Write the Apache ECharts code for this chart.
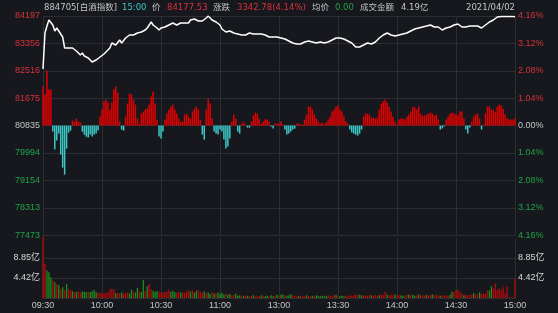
<!DOCTYPE html>
<html><head><meta charset="utf-8">
<script src="https://cdn.jsdelivr.net/npm/echarts@6/dist/echarts.min.js"></script>
<style>html,body{margin:0;padding:0;background:#16181d;}#c{width:558px;height:313px;}</style>
</head><body><div id="c"></div>
<script>
// ---- data ----
const tickLabels = ['09:30','10:00','10:30','11:00','13:00','13:30','14:00','14:30','15:00'];
const preClose = 80834.75;
const priceStep = 840.5;
const pctStep = 1.04;
const volStep = 4.4233;

const header = {
  code: '884705[白酒指数]', time: '15:00', priceLbl: '价', price: '84177.53',
  chgLbl: '涨跌', chg: '3342.78(4.14%)', avgLbl: '均价', avg: '0.00',
  amtLbl: '成交金额', amt: '4.19亿', date: '2021/04/02'
};

const price = [
82571,83675,83890,84074,84013,83921,83737,83829,83737,83706,
83553,83215,83154,83215,83185,83215,83154,83123,83093,83000,
83062,82970,82939,82908,82847,82786,82755,82847,82878,82939,
82970,83031,83093,83154,83215,83368,83399,83307,83368,83460,
83368,83399,83522,83553,83614,83583,83614,83645,83675,83675,
83706,83706,83767,83829,83921,84013,83921,83860,83829,83767,
83829,83829,83860,83890,83921,83921,83982,83982,83921,83982,
83982,83951,83982,84013,83982,84074,84135,84105,84044,84044,
84105,84044,84105,84135,84197,84166,84074,84135,84013,83982,
83921,83798,83737,83706,83706,83737,83767,83675,83614,83645,
83675,83614,83614,83614,83645,83675,83675,83645,83614,83645,
83645,83645,83614,83614,83583,83553,83553,83553,83553,83553,
83553,83522,83522,83491,83460,83430,83399,83368,83368,83338,
83307,83338,83368,83399,83399,83430,83399,83399,83399,83368,
83368,83399,83368,83368,83368,83399,83430,83460,83491,83522,
83553,83522,83522,83491,83460,83430,83399,83368,83307,83246,
83215,83246,83307,83307,83338,83368,83368,83338,83368,83399,
83460,83522,83553,83614,83675,83675,83645,83614,83583,83583,
83614,83614,83614,83645,83645,83675,83706,83737,83767,83798,
83829,83829,83829,83860,83890,83890,83921,83921,83890,83860,
83860,83860,83829,83767,83798,83829,83860,83860,83890,83921,
83921,83951,83982,83860,83829,83860,83860,83890,83921,83890,
83921,83890,83860,83829,83860,83921,83982,84013,84044,84074,
84135,84166,84180,84182,84180,84178,84180,84178,84178,84178,
84177.53];

// buy/sell strength bars (red up, cyan down), arbitrary units
const strength = [
39,31,55,36,36,-6,-24,-15,-8,-29,
-42,-49,-23,-7,-5,5,4,7,4,3,
-6,-9,-11,-12,-9,-11,-9,-8,-5,9,
16,24,26,23,16,23,36,39,33,4,
-4,-5,9,22,32,31,26,21,7,2,
12,14,16,17,21,29,34,22,6,-11,
-13,-6,6,12,16,19,21,16,12,7,
4,4,11,12,9,7,14,17,19,16,
6,-9,-14,16,27,22,7,-6,-8,-9,
-4,-6,-14,-23,-21,-13,4,11,7,-6,
-8,2,4,1,-2,-2,4,10,13,12,
7,2,4,6,6,4,-1,-3,2,2,
2,4,1,-4,-9,-8,-6,-4,-3,2,
2,1,1,6,11,19,19,16,11,7,
4,2,3,1,3,6,9,14,16,19,
20,16,14,9,4,2,-4,-7,-8,-9,
-10,-8,-4,9,12,12,11,8,8,7,
8,16,22,24,26,23,19,14,9,4,
1,6,7,7,6,9,11,14,19,18,
16,19,12,10,10,11,12,13,12,10,
11,6,-4,-3,-1,6,9,12,13,12,
11,10,14,14,7,-4,-8,-2,4,9,
11,12,7,-4,1,12,19,19,16,16,
14,19,21,20,17,11,7,6,6,6,
7];

// minute turnover (亿)
const volume = [
13.6,7.5,6.1,5.7,4.6,3.9,3.5,3.1,2.8,2.0,
2.4,1.7,3.1,2.0,1.7,1.5,1.3,1.3,1.5,1.2,
1.5,1.3,1.3,1.3,1.3,1.5,1.8,1.3,1.1,1.2,
1.1,1.0,1.1,1.2,2.0,2.0,1.9,1.1,1.0,1.1,
1.2,1.0,1.1,1.2,1.0,1.8,1.4,1.2,2.2,1.5,
1.3,3.9,1.6,2.6,3.1,2.0,1.6,1.4,1.5,1.3,
1.2,1.2,1.3,1.4,1.9,1.4,1.6,1.3,1.2,1.4,
1.2,1.3,1.1,1.5,1.7,1.4,1.7,1.2,1.6,1.8,
1.3,1.2,1.5,1.1,1.2,0.9,1.3,1.0,1.1,1.2,
0.9,1.2,0.8,1.0,0.7,0.9,0.6,0.8,1.0,0.5,
0.6,0.5,0.4,0.6,0.5,0.4,0.5,0.6,0.4,0.5,
0.4,0.6,0.5,0.4,0.5,0.4,0.6,0.4,0.5,0.7,
0.5,0.7,0.8,0.6,0.5,0.6,0.9,0.6,0.5,0.4,
0.5,0.4,0.5,0.4,0.6,0.5,0.4,0.5,0.4,0.6,
0.5,0.4,0.5,0.4,0.5,0.6,0.5,0.4,0.6,0.7,
0.5,0.4,0.5,0.4,0.5,0.4,0.6,0.5,0.6,0.7,
0.8,0.7,0.6,0.5,0.6,0.5,0.7,0.6,0.5,0.6,
0.5,0.6,0.7,0.8,1.3,0.7,0.6,0.7,0.6,0.8,
0.6,0.7,0.6,0.5,0.6,0.7,0.8,0.6,0.7,0.5,
0.6,0.8,0.7,0.6,0.5,0.7,0.6,0.7,0.8,0.6,
0.7,0.6,0.5,0.6,0.5,0.6,0.5,0.7,1.4,1.3,
1.7,1.8,1.3,0.9,0.6,0.7,0.6,0.8,0.7,1.1,
0.8,0.9,1.3,0.9,1.0,0.9,1.7,1.7,2.6,2.1,
3.2,1.8,2.1,1.8,2.4,1.1,2.6,0.1,0.1,0.1,
4.3];

// volume bar colour: 1 = red, 0 = green
const volUp = [
1,1,0,0,0,1,0,1,0,1,
0,1,0,1,1,0,1,0,1,1,
0,0,0,1,0,0,0,0,1,1,
1,1,1,1,1,1,1,0,1,1,
0,1,1,1,0,0,1,0,0,1,
0,0,1,0,1,1,0,0,0,1,
1,1,1,1,1,0,0,0,1,1,
0,1,1,1,1,0,1,0,0,1,
1,1,0,1,0,0,1,0,1,0,
0,0,0,1,0,0,1,1,0,0,
0,1,0,1,0,1,1,0,1,1,
1,0,1,0,0,1,0,0,1,0,
1,0,0,1,0,0,0,1,1,1,
0,1,1,1,0,1,1,0,1,0,
0,0,0,0,0,1,1,1,1,0,
1,0,0,0,1,1,1,1,1,1,
1,0,0,1,1,1,1,0,1,1,
1,0,1,1,1,0,1,1,1,0,
1,1,0,0,1,1,0,1,0,0,
1,0,1,1,1,0,1,1,0,1,
1,1,0,1,1,1,1,0,0,1,
1,1,1,1,0,1,1,1,1,0,
1,1,0,1,1,1,1,0,0,1,
1,1,1,1,1,1,1,1,1,1,
1];

// ---- styling ----
const BG = '#16181d', GRID = '#2c2e34';
const RED = '#d8323c', GREEN = '#1fa34a', GREY = '#c4c4c4';
const FONT = "'Liberation Sans','Noto Sans CJK SC',sans-serif";
const HFONT = "'DejaVu Sans','Noto Sans CJK SC',sans-serif";

const chart = echarts.init(document.getElementById('c'), null, {renderer: 'canvas'});

function hText(x, text, color, align) {
  return {type: 'text', x: x, y: 8, silent: true,
    style: {text: text, fill: color, font: '8.5px ' + HFONT, align: align || 'left', verticalAlign: 'middle',
            textAlign: align || 'left', textVerticalAlign: 'middle'}};
}

const xBase = {
  type: 'value', min: 0, max: 240, interval: 30,
  axisTick: {show: false},
  axisLine: {show: false},
  splitLine: {show: true, lineStyle: {color: GRID, width: 1}}
};

const option = {
  backgroundColor: BG,
  animation: false,
  graphic: [
    hText(44, header.code, GREY),
    hText(122, header.time, '#3cc8c8'),
    hText(152, header.priceLbl, GREY),
    hText(167, header.price, RED),
    hText(213, header.chgLbl, GREY),
    hText(237, header.chg, RED),
    hText(312, header.avgLbl, GREY),
    hText(335, header.avg, GREEN),
    hText(360, header.amtLbl, GREY),
    hText(401, header.amt, GREY),
    hText(515, header.date, GREY, 'right')
  ],
  grid: [
    {left: 43, right: 43, top: 16, height: 219.2},
    {left: 43, right: 43, top: 238, height: 60}
  ],
  xAxis: [
    Object.assign({}, xBase, {gridIndex: 0, axisLabel: {show: false}}),
    Object.assign({}, xBase, {gridIndex: 1,
      axisLine: {show: true, lineStyle: {color: GRID}},
      axisLabel: {show: true, color: GREY, fontSize: 9, fontFamily: FONT, margin: 3,
        formatter: v => tickLabels[Math.round(v / 30)] || ''}})
  ],
  yAxis: [
    { // price, left
      type: 'value', gridIndex: 0,
      min: preClose - 4 * priceStep, max: preClose + 4 * priceStep, interval: priceStep,
      axisLine: {show: false}, axisTick: {show: false},
      splitLine: {show: true, lineStyle: {color: GRID, width: 1}},
      axisLabel: {fontSize: 9, fontFamily: FONT, margin: 3,
        formatter: v => String(Math.round(v)),
        color: v => { v = parseFloat(v); return v > preClose + 1 ? RED : (v < preClose - 1 ? GREEN : GREY); }}
    },
    { // percent, right
      type: 'value', gridIndex: 0, position: 'right',
      min: -4 * pctStep, max: 4 * pctStep, interval: pctStep,
      axisLine: {show: false}, axisTick: {show: false}, splitLine: {show: false},
      axisLabel: {fontSize: 9, fontFamily: FONT, margin: 3,
        formatter: v => Math.abs(v).toFixed(2) + '%',
        color: v => { v = parseFloat(v); return v > 0.005 ? RED : (v < -0.005 ? GREEN : GREY); }}
    },
    { // strength bars
      type: 'value', gridIndex: 0, min: -109.6, max: 109.6, show: false
    },
    { // volume, left
      type: 'value', gridIndex: 1, min: 0, max: 3 * volStep, interval: volStep,
      axisLine: {show: false}, axisTick: {show: false},
      splitLine: {show: true, showMaxLine: false, lineStyle: {color: GRID, width: 1}},
      axisLabel: {fontSize: 9, fontFamily: FONT, color: '#d8d8d8', margin: 3, showMinLabel: false, showMaxLabel: false,
        formatter: v => v.toFixed(2) + '亿'}
    },
    { // volume, right
      type: 'value', gridIndex: 1, position: 'right', min: 0, max: 3 * volStep, interval: volStep,
      axisLine: {show: false}, axisTick: {show: false}, splitLine: {show: false},
      axisLabel: {fontSize: 9, fontFamily: FONT, color: '#d8d8d8', margin: 3, showMinLabel: false, showMaxLabel: false,
        formatter: v => v.toFixed(2) + '亿'}
    }
  ],
  series: [
    {
      type: 'bar', xAxisIndex: 0, yAxisIndex: 2, barWidth: 1.5, z: 2,
      data: strength.map((v, i) => ({value: [i, v], itemStyle: {color: v >= 0 ? '#e00000' : '#3cc8c8'}}))
    },
    {
      type: 'line', xAxisIndex: 0, yAxisIndex: 0, symbol: 'none', z: 5,
      lineStyle: {color: '#ffffff', width: 1.5},
      data: price.map((v, i) => [i, v])
    },
    {
      type: 'bar', xAxisIndex: 1, yAxisIndex: 3, barWidth: 1.3, clip: false, z: 2,
      data: volume.map((v, i) => ({value: [i, v], itemStyle: {color: volUp[i] ? '#b40a0a' : '#1c8f1c'}}))
    }
  ]
};
chart.setOption(option);
</script>
</body></html>
